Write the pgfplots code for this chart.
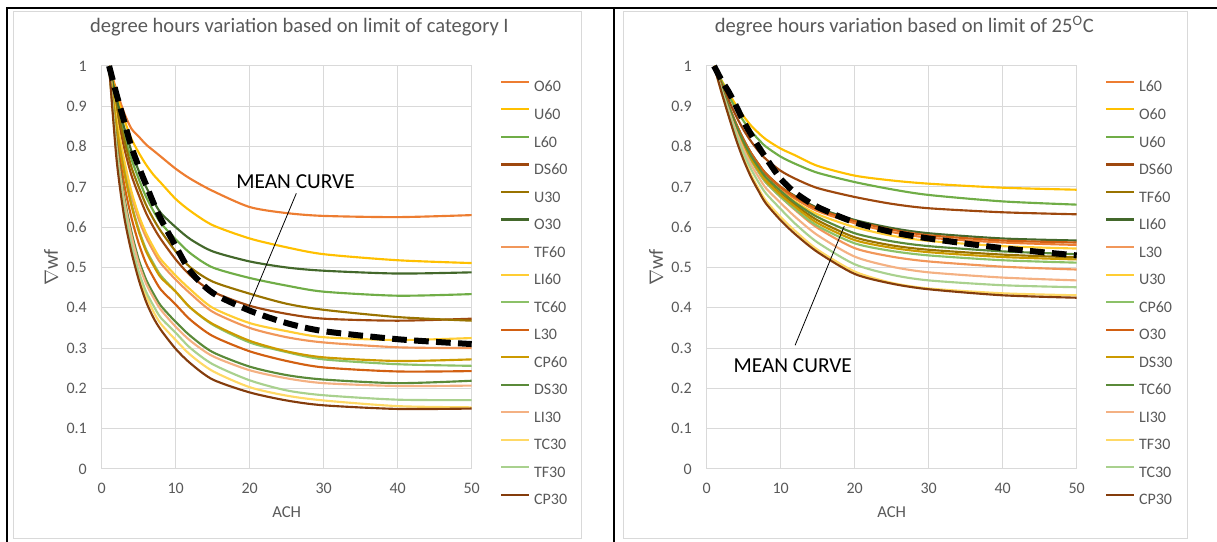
\documentclass[border=0pt]{standalone}
\usepackage{fontspec}
\setmainfont{Carlito}
\usepackage{pgfplots}
\usepackage{pgfplotstable}
\pgfplotsset{compat=1.18}

\definecolor{gridc}{HTML}{D9D9D9}
\definecolor{tickc}{HTML}{595959}
\definecolor{cOr}{HTML}{ED7D31}
\definecolor{cGo}{HTML}{FFC000}
\definecolor{cGr}{HTML}{70AD47}
\definecolor{cDOr}{HTML}{9E480E}
\definecolor{cDGo}{HTML}{997300}
\definecolor{cDGr}{HTML}{43682B}
\definecolor{cLOr}{HTML}{F1975A}
\definecolor{cLGo}{HTML}{FFCD33}
\definecolor{cLGr}{HTML}{8CC168}
\definecolor{cMOr}{HTML}{D26012}
\definecolor{cMGo}{HTML}{CC9A00}
\definecolor{cMGr}{HTML}{5A8A39}
\definecolor{cPOr}{HTML}{F4B183}
\definecolor{cPGo}{HTML}{FFD966}
\definecolor{cPGr}{HTML}{A9D18E}
\definecolor{cBr}{HTML}{843C0C}

\pgfplotstableread{
x  O60   U60   L60   DS60  U30   O30   TF60  LI60  TC60  L30   CP60  DS30  LI30  TC30  TF30  CP30  mean
1  1     1     1     1     1     1     1     1     1     1     1     1     1     1     1     1     1
2  0.94  0.93  0.91  0.89  0.90  0.92  0.86  0.87  0.85  0.83  0.85  0.81  0.80  0.785 0.79  0.77  0.93
3  0.885 0.87  0.83  0.80  0.82  0.85  0.76  0.77  0.745 0.71  0.74  0.68  0.67  0.645 0.655 0.63  0.865
4  0.845 0.82  0.77  0.73  0.75  0.79  0.68  0.69  0.66  0.625 0.655 0.59  0.58  0.55  0.56  0.54  0.80
5  0.825 0.785 0.72  0.68  0.70  0.74  0.62  0.63  0.595 0.56  0.59  0.52  0.51  0.48  0.49  0.47  0.75
6  0.805 0.755 0.675 0.635 0.655 0.70  0.575 0.585 0.545 0.51  0.54  0.47  0.46  0.43  0.44  0.415 0.705
7  0.79  0.73  0.64  0.60  0.62  0.665 0.54  0.55  0.51  0.475 0.505 0.435 0.425 0.39  0.405 0.375 0.66
8  0.775 0.71  0.61  0.57  0.59  0.635 0.51  0.52  0.48  0.445 0.475 0.405 0.395 0.36  0.375 0.345 0.62
10 0.745 0.67  0.57  0.52  0.54  0.60  0.47  0.48  0.44  0.408 0.44  0.365 0.353 0.32  0.338 0.298 0.553
12 0.72  0.64  0.535 0.48  0.50  0.57  0.435 0.445 0.40  0.37  0.40  0.33  0.318 0.283 0.30  0.262 0.49
15 0.69  0.605 0.50  0.44  0.465 0.54  0.39  0.40  0.358 0.33  0.36  0.29  0.28  0.243 0.26  0.222 0.437
20 0.65  0.572 0.474 0.405 0.435 0.515 0.35  0.362 0.314 0.292 0.318 0.254 0.245 0.203 0.22  0.19  0.393
25 0.635 0.55  0.455 0.385 0.41  0.50  0.327 0.342 0.29  0.268 0.292 0.233 0.225 0.182 0.195 0.17  0.362
30 0.628 0.533 0.44  0.373 0.395 0.492 0.314 0.327 0.272 0.252 0.277 0.222 0.213 0.17  0.183 0.158 0.342
40 0.625 0.518 0.43  0.368 0.377 0.485 0.302 0.32  0.26  0.242 0.268 0.213 0.206 0.156 0.172 0.149 0.322
50 0.630 0.511 0.434 0.373 0.368 0.488 0.30  0.325 0.256 0.243 0.272 0.219 0.207 0.153 0.171 0.150 0.31
}\tabL

\pgfplotstableread{
x  L60   O60   U60   DS60  TF60  LI60  L30   U30   CP60  O30   DS30  TC60  LI30  TF30  TC30  CP30  mean
1  1     1     1     1     1     1     1     1     1     1     1     1     1     1     1     1     1
2  0.948 0.965 0.962 0.956 0.946 0.949 0.945 0.947 0.945 0.949 0.946 0.947 0.942 0.936 0.94  0.935 0.965
3  0.899 0.932 0.926 0.914 0.896 0.90  0.893 0.898 0.893 0.90  0.894 0.898 0.888 0.876 0.883 0.874 0.935
4  0.854 0.902 0.892 0.875 0.849 0.856 0.844 0.851 0.844 0.856 0.846 0.851 0.837 0.82  0.83  0.816 0.90
5  0.814 0.875 0.863 0.841 0.808 0.817 0.802 0.811 0.802 0.817 0.805 0.811 0.793 0.771 0.783 0.766 0.862
6  0.78  0.852 0.838 0.813 0.773 0.784 0.766 0.777 0.766 0.784 0.77  0.777 0.755 0.73  0.744 0.724 0.83
7  0.753 0.834 0.818 0.789 0.745 0.757 0.737 0.749 0.737 0.757 0.741 0.749 0.725 0.696 0.712 0.69  0.80
8  0.729 0.818 0.80  0.769 0.72  0.733 0.711 0.724 0.711 0.733 0.715 0.724 0.697 0.666 0.684 0.659 0.772
10 0.695 0.795 0.775 0.74  0.685 0.70  0.675 0.69  0.675 0.70  0.68  0.69  0.66  0.625 0.645 0.617 0.72
12 0.67  0.778 0.757 0.72  0.655 0.677 0.642 0.663 0.644 0.675 0.65  0.66  0.625 0.59  0.608 0.582 0.685
15 0.64  0.752 0.735 0.697 0.617 0.648 0.598 0.632 0.603 0.645 0.61  0.625 0.58  0.544 0.562 0.538 0.65
20 0.61  0.728 0.712 0.675 0.575 0.618 0.548 0.60  0.56  0.615 0.568 0.585 0.527 0.49  0.508 0.484 0.612
25 0.588 0.716 0.694 0.658 0.555 0.598 0.527 0.579 0.541 0.594 0.549 0.565 0.502 0.462 0.482 0.46  0.588
30 0.574 0.708 0.68  0.647 0.544 0.585 0.515 0.566 0.53  0.58  0.538 0.553 0.488 0.448 0.468 0.446 0.572
40 0.562 0.698 0.664 0.637 0.532 0.572 0.502 0.553 0.518 0.567 0.526 0.54  0.475 0.436 0.456 0.431 0.548
50 0.556 0.693 0.656 0.632 0.525 0.567 0.495 0.547 0.512 0.562 0.52  0.533 0.468 0.431 0.451 0.425 0.530
}\tabR

\pgfplotsset{
  myax/.style={
    scale only axis, width=277.5pt, height=302.25pt,
    xmin=0, xmax=50, ymin=0, ymax=1, clip=false,
    xtick={0,10,20,30,40,50},
    ytick={0,0.1,0.2,0.3,0.4,0.5,0.6,0.7,0.8,0.9,1},
    grid=major, major grid style={draw=gridc, line width=0.75pt},
    axis line style={draw=gridc, line width=0.75pt},
    major tick length=0pt,
    /pgf/number format/assume math mode=true,
    yticklabel style={/pgf/number format/fixed, /pgf/number format/precision=1,
      anchor=east, inner sep=0pt, xshift=-11pt},
    xticklabel style={anchor=north, inner sep=0pt, yshift=-10.5pt},
    tick label style={font=\fontsize{12}{14}\selectfont, text=tickc},
    title style={at={(rel axis cs:0.5,1)}, anchor=base, yshift=19pt, xshift=9.5pt,
      font=\fontsize{15.4}{17}\selectfont, text=tickc},
    xlabel style={at={(rel axis cs:0.5,0)}, anchor=base, yshift=-36.2pt,
      font=\fontsize{12.5}{14}\selectfont, text=tickc},
    ylabel style={at={([xshift=-38pt]rel axis cs:0,0.5)}, anchor=center,
      font=\fontsize{15}{17}\selectfont, text=tickc},
    xlabel={ACH}, ylabel={$\nabla$wf},
    every axis plot/.append style={line width=1.6pt, line join=round, smooth, tension=0.45},
    legend cell align=left,
    legend style={draw=none, fill=none, at={(rel axis cs:1,1)}, anchor=north west,
      xshift=21.2pt, yshift=-5.4pt, inner sep=0pt, outer sep=0pt,
      row sep=0pt, column sep=3pt, font=\fontsize{12}{14}\selectfont, text=tickc,
      nodes={inner sep=0pt, text height=14.1pt, text depth=6.55pt}},
    legend image code/.code={\draw[##1] (0pt,3.8pt) -- (21pt,3.8pt);},
  },
  meanst/.style={black, line width=4.5pt, dash pattern=on 11pt off 5.5pt, line cap=butt, forget plot},
}

\begin{document}
\begin{tikzpicture}
\useasboundingbox (0,0) rectangle (912.75pt,406.5pt);
% chart area borders
\draw[gridc, line width=0.75pt] (9.75pt,2.25pt) rectangle (435.75pt,397.5pt);
\draw[gridc, line width=0.75pt] (467.25pt,2.25pt) rectangle (890.25pt,397.5pt);
% outer black frame
\draw[black, line width=1.5pt] (5.25pt,0pt) -- (5.25pt,400.5pt) -- (912.75pt,400.5pt);
\draw[black, line width=1.5pt] (460.5pt,0pt) -- (460.5pt,400.5pt);

\begin{axis}[myax, at={(76.275pt,54.75pt)}, anchor=south west,
  title={degree hours variation based on limit of category I}]
\addplot[cOr]  table[x=x,y=O60]  {\tabL}; \addlegendentry{O60}
\addplot[cGo]  table[x=x,y=U60]  {\tabL}; \addlegendentry{U60}
\addplot[cGr]  table[x=x,y=L60]  {\tabL}; \addlegendentry{L60}
\addplot[cDOr] table[x=x,y=DS60] {\tabL}; \addlegendentry{DS60}
\addplot[cDGo] table[x=x,y=U30]  {\tabL}; \addlegendentry{U30}
\addplot[cDGr] table[x=x,y=O30]  {\tabL}; \addlegendentry{O30}
\addplot[cLOr] table[x=x,y=TF60] {\tabL}; \addlegendentry{TF60}
\addplot[cLGo] table[x=x,y=LI60] {\tabL}; \addlegendentry{LI60}
\addplot[cLGr] table[x=x,y=TC60] {\tabL}; \addlegendentry{TC60}
\addplot[cMOr] table[x=x,y=L30]  {\tabL}; \addlegendentry{L30}
\addplot[cMGo] table[x=x,y=CP60] {\tabL}; \addlegendentry{CP60}
\addplot[cMGr] table[x=x,y=DS30] {\tabL}; \addlegendentry{DS30}
\addplot[cPOr] table[x=x,y=LI30] {\tabL}; \addlegendentry{LI30}
\addplot[cPGo] table[x=x,y=TC30] {\tabL}; \addlegendentry{TC30}
\addplot[cPGr] table[x=x,y=TF30] {\tabL}; \addlegendentry{TF30}
\addplot[cBr]  table[x=x,y=CP30] {\tabL}; \addlegendentry{CP30}
\addplot[meanst] table[x=x,y=mean] {\tabL};
\draw[black, line width=0.6pt] (axis cs:26.3,0.684) -- (axis cs:19.9,0.403);
\node[font=\fontsize{16}{18}\selectfont, black] at (axis cs:26.2,0.713) {MEAN CURVE};
\end{axis}

\begin{axis}[myax, at={(530.0pt,54.75pt)}, anchor=south west,
  title={degree hours variation based on limit of 25\textsuperscript{O}C}]
\addplot[cOr]  table[x=x,y=L60]  {\tabR}; \addlegendentry{L60}
\addplot[cGo]  table[x=x,y=O60]  {\tabR}; \addlegendentry{O60}
\addplot[cGr]  table[x=x,y=U60]  {\tabR}; \addlegendentry{U60}
\addplot[cDOr] table[x=x,y=DS60] {\tabR}; \addlegendentry{DS60}
\addplot[cDGo] table[x=x,y=TF60] {\tabR}; \addlegendentry{TF60}
\addplot[cDGr] table[x=x,y=LI60] {\tabR}; \addlegendentry{LI60}
\addplot[cLOr] table[x=x,y=L30]  {\tabR}; \addlegendentry{L30}
\addplot[cLGo] table[x=x,y=U30]  {\tabR}; \addlegendentry{U30}
\addplot[cLGr] table[x=x,y=CP60] {\tabR}; \addlegendentry{CP60}
\addplot[cMOr] table[x=x,y=O30]  {\tabR}; \addlegendentry{O30}
\addplot[cMGo] table[x=x,y=DS30] {\tabR}; \addlegendentry{DS30}
\addplot[cMGr] table[x=x,y=TC60] {\tabR}; \addlegendentry{TC60}
\addplot[cPOr] table[x=x,y=LI30] {\tabR}; \addlegendentry{LI30}
\addplot[cPGo] table[x=x,y=TF30] {\tabR}; \addlegendentry{TF30}
\addplot[cPGr] table[x=x,y=TC30] {\tabR}; \addlegendentry{TC30}
\addplot[cBr]  table[x=x,y=CP30] {\tabR}; \addlegendentry{CP30}
\addplot[meanst] table[x=x,y=mean] {\tabR};
\draw[black, line width=0.6pt] (axis cs:11.95,0.307) -- (axis cs:18.6,0.603);
\node[font=\fontsize{16}{18}\selectfont, black] at (axis cs:11.63,0.256) {MEAN CURVE};
\end{axis}
\end{tikzpicture}
\end{document}
